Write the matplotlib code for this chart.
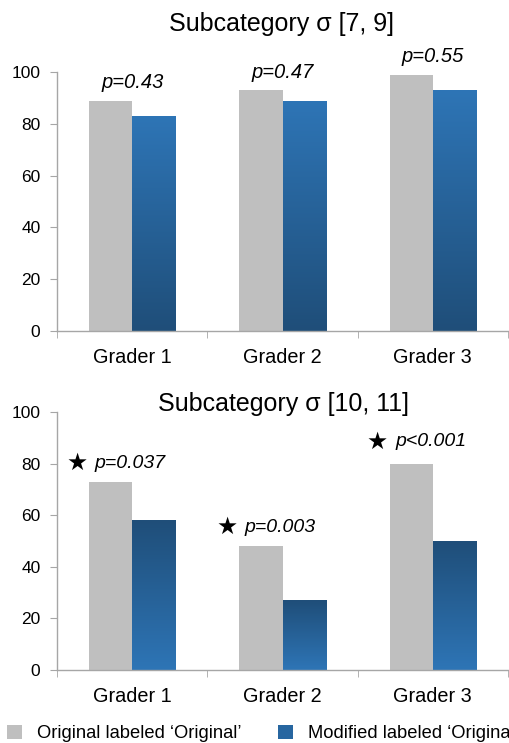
import numpy as np
import matplotlib
matplotlib.use("Agg")
import matplotlib.pyplot as plt
from matplotlib.patches import Patch
from matplotlib.colors import LinearSegmentedColormap

plt.rcParams['font.family'] = ['Liberation Sans', 'DejaVu Sans']

graders = ['Grader 1', 'Grader 2', 'Grader 3']

# panel 1: subcategory sigma [7, 9]
orig_79 = [89, 93, 99]
mod_79 = [83, 89, 93]
p_79 = ['p=0.43', 'p=0.47', 'p=0.55']

# panel 2: subcategory sigma [10, 11]
orig_1011 = [73, 48, 80]
mod_1011 = [58, 27, 50]
p_1011 = ['p=0.037', 'p=0.003', 'p<0.001']

GRAY = '#bfbfbf'
DARK = '#1f4e79'
LIGHT = '#2e75b6'
SPINE = '#a6a6a6'


def gradient_bars(ax, bars, top_color, bottom_color):
    cmap = LinearSegmentedColormap.from_list('g', [bottom_color, top_color])
    grad = np.linspace(0, 1, 256).reshape(-1, 1)
    for b in bars:
        x0, y0 = b.get_x(), b.get_y()
        w, h = b.get_width(), b.get_height()
        b.set_facecolor('none')
        im = ax.imshow(grad, cmap=cmap, aspect='auto', origin='lower',
                       extent=[x0, x0 + w, y0, y0 + h], zorder=2)
        im.set_clip_path(b)


def style_axis(ax):
    ax.set_xlim(-0.5, 2.5)
    ax.set_ylim(0, 100)
    ax.set_yticks(range(0, 101, 20))
    ax.set_xticks(range(3))
    ax.set_xticklabels(graders, fontsize=14.3)
    ax.set_xticks([-0.5, 0.5, 1.5, 2.5], minor=True)
    ax.tick_params(axis='x', which='major', length=0, pad=12)
    ax.tick_params(axis='x', which='minor', length=5, color=SPINE)
    ax.tick_params(axis='y', length=5, color=SPINE, labelsize=12.5, pad=7)
    for s in ['top', 'right']:
        ax.spines[s].set_visible(False)
    for s in ['left', 'bottom']:
        ax.spines[s].set_color(SPINE)
        ax.spines[s].set_linewidth(1)


fig = plt.figure(figsize=(5.10, 7.43), dpi=100)
ax1 = fig.add_axes([0.112, 0.5545, 0.884, 0.3485])
ax2 = fig.add_axes([0.112, 0.0983, 0.884, 0.3472])

x = np.arange(len(graders))
w = 0.287

# top panel
ax1.bar(x - w / 2, orig_79, w, color=GRAY, zorder=2)
b1 = ax1.bar(x + w / 2, mod_79, w, color=LIGHT, zorder=2)
gradient_bars(ax1, b1, LIGHT, DARK)
style_axis(ax1)
for i, t in enumerate(p_79):
    ax1.text(x[i], orig_79[i] + 7, t, ha='center', va='center',
             fontsize=14.5, style='italic', clip_on=False)

# bottom panel
ax2.bar(x - w / 2, orig_1011, w, color=GRAY, zorder=2)
b2 = ax2.bar(x + w / 2, mod_1011, w, color=LIGHT, zorder=2)
gradient_bars(ax2, b2, DARK, LIGHT)
style_axis(ax2)
label_y = [80.2, 55.4, 88.5]
for i, t in enumerate(p_1011):
    ax2.text(x[i] - 0.369, label_y[i], '\u2605', ha='center', va='center',
             fontsize=17, family='DejaVu Sans', clip_on=False)
    ax2.text(x[i] - 0.25, label_y[i], t, ha='left', va='center',
             fontsize=14, style='italic', clip_on=False)

fig.text(0.552, 0.968, 'Subcategory \u03c3 [7, 9]', ha='center', va='center', fontsize=18)
fig.text(0.555, 0.4566, 'Subcategory \u03c3 [10, 11]', ha='center', va='center', fontsize=18)

handles = [Patch(facecolor=GRAY, edgecolor='none'),
           Patch(facecolor='#2766a0', edgecolor='none')]
fig.legend(handles, ['Original labeled \u2018Original\u2019',
                     'Modified labeled \u2018Original\u2019'],
           loc='lower left', bbox_to_anchor=(0.012, 0), ncol=2, frameon=False,
           fontsize=13.2, handlelength=0.83, handleheight=0.83,
           handletextpad=0.8, columnspacing=2.0, borderaxespad=0,
           borderpad=0.05)

fig.savefig('out.png', dpi=100)
